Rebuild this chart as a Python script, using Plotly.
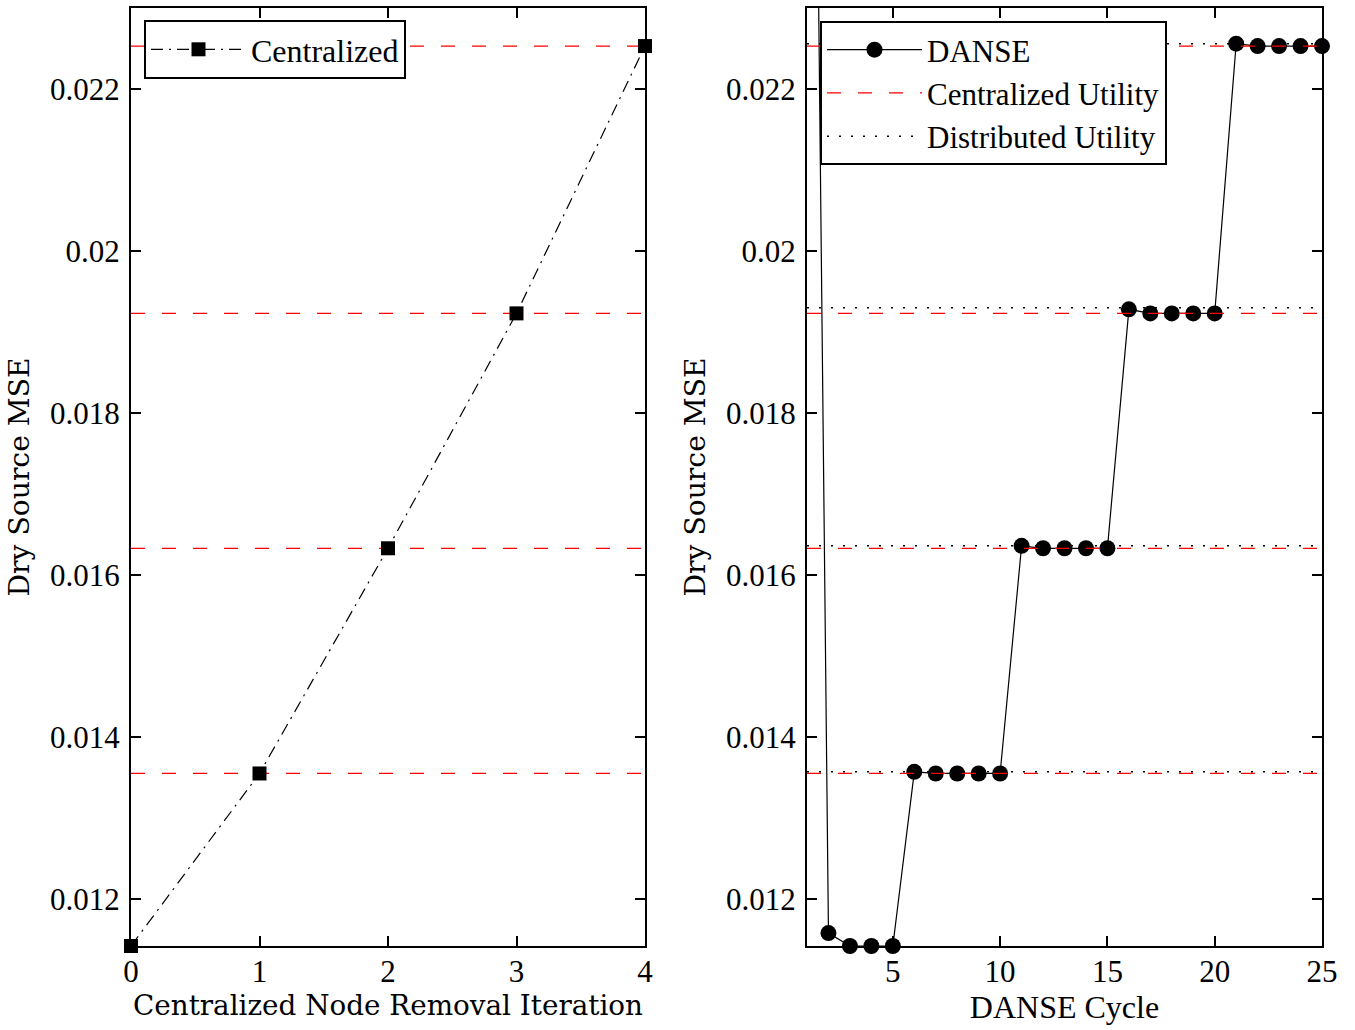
import plotly.graph_objects as go

# ---- data ----
iterations = [0, 1, 2, 3, 4]
centralized_mse = [0.01142, 0.01355, 0.01633, 0.01923, 0.02253]

danse_cycles = list(range(1, 26))
danse_mse = [0.0367, 0.01158, 0.01142, 0.01142, 0.01142,
             0.01357, 0.01355, 0.01355, 0.01355, 0.01355,
             0.01636, 0.01633, 0.01633, 0.01633, 0.01633,
             0.01928, 0.01923, 0.01923, 0.01923, 0.01923,
             0.02256, 0.02253, 0.02253, 0.02253, 0.02253]

centralized_utility = [0.01355, 0.01633, 0.01923, 0.02253]
distributed_utility = [0.01357, 0.01636, 0.01930, 0.02256]

ytick_vals = [0.012, 0.014, 0.016, 0.018, 0.020, 0.022]
ytick_text = ["0.012", "0.014", "0.016", "0.018", "0.02", "0.022"]
left_xticks = [0, 1, 2, 3, 4]
right_xticks = [5, 10, 15, 20, 25]

FONT = "Liberation Serif"
TEXFONT = "DejaVu Serif"
W, H = 1355, 1030


def hlines(values, x0, x1):
    xs, ys = [], []
    for v in values:
        xs += [x0, x1, None]
        ys += [v, v, None]
    return xs, ys


fig = go.Figure()

# left plot
xs, ys = hlines(centralized_utility, left_xticks[0], left_xticks[-1])
fig.add_trace(go.Scatter(x=xs, y=ys, mode="lines", showlegend=False,
                         line=dict(color="red", width=1.2, dash="14px,17px"),
                         xaxis="x", yaxis="y", hoverinfo="skip"))
fig.add_trace(go.Scatter(x=iterations, y=centralized_mse, mode="lines+markers",
                         name="Centralized", legend="legend",
                         line=dict(color="black", width=1.2, dash="12px,6px,2px,6px"),
                         marker=dict(symbol="square", size=14, color="black"),
                         xaxis="x", yaxis="y", cliponaxis=False))

# right plot
xs, ys = hlines(distributed_utility, danse_cycles[0], danse_cycles[-1])
xs2, ys2 = hlines(centralized_utility, danse_cycles[0], danse_cycles[-1])
fig.add_trace(go.Scatter(x=danse_cycles, y=danse_mse, mode="lines+markers",
                         name="DANSE", legend="legend2",
                         line=dict(color="black", width=1.2),
                         marker=dict(symbol="circle", size=16, color="black"),
                         xaxis="x2", yaxis="y2", cliponaxis=False))
fig.add_trace(go.Scatter(x=xs2, y=ys2, mode="lines", name="Centralized Utility",
                         legend="legend2",
                         line=dict(color="red", width=1.2, dash="14px,17px"),
                         xaxis="x2", yaxis="y2", hoverinfo="skip"))
fig.add_trace(go.Scatter(x=xs, y=ys, mode="lines", name="Distributed Utility",
                         legend="legend2",
                         line=dict(color="black", width=1.5, dash="2px,10px"),
                         xaxis="x2", yaxis="y2", hoverinfo="skip"))

yr = [0.01142, 0.02300]
axis_common = dict(showline=True, linecolor="black", linewidth=2, mirror="ticks",
                   ticks="inside", ticklen=10, tickwidth=2, tickcolor="black",
                   showgrid=False, zeroline=False, automargin=False,
                   tickfont=dict(family=FONT, size=31, color="black"))

fig.update_layout(
    width=W, height=H, autosize=False,
    margin=dict(l=0, r=0, t=0, b=0),
    paper_bgcolor="white", plot_bgcolor="white",
    font=dict(family=FONT, size=31, color="black"),
    xaxis=dict(domain=[131 / W, 645 / W], range=[0, 4], tickvals=left_xticks,
               title=dict(text="Centralized Node Removal Iteration", standoff=2,
                          font=dict(family=TEXFONT, size=27.8)),
               anchor="y", ticklabelstandoff=-3, **axis_common),
    yaxis=dict(domain=[1 - 946 / H, 1 - 8 / H], range=yr, tickvals=ytick_vals,
               ticktext=ytick_text, anchor="x",
               title=dict(text="Dry Source MSE", standoff=12,
                          font=dict(family=TEXFONT, size=28.2)),
               ticklabelstandoff=3, **axis_common),
    xaxis2=dict(domain=[807 / W, 1322 / W], range=[1, 25], tickvals=right_xticks,
                title=dict(text="DANSE Cycle", standoff=0,
                           font=dict(family=FONT, size=32)),
                anchor="y2", ticklabelstandoff=-3, **axis_common),
    yaxis2=dict(domain=[1 - 946 / H, 1 - 8 / H], range=yr, tickvals=ytick_vals,
                ticktext=ytick_text, anchor="x2",
                title=dict(text="Dry Source MSE", standoff=12,
                           font=dict(family=TEXFONT, size=28.2)),
                ticklabelstandoff=3, **axis_common),
    legend=dict(x=144 / W, y=1 - 20 / H, xanchor="left", yanchor="top",
                bgcolor="white", bordercolor="black", borderwidth=2,
                font=dict(family=FONT, size=32), itemwidth=95,
                tracegroupgap=0),
    legend2=dict(x=820 / W, y=1 - 21 / H, xanchor="left", yanchor="top",
                 bgcolor="white", bordercolor="black", borderwidth=2,
                 font=dict(family=FONT, size=31), itemwidth=95,
                 tracegroupgap=0),
)

fig.write_html("out.html")
